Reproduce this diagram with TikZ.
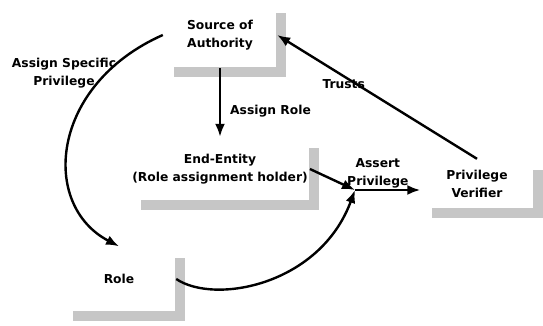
\documentclass[tikz,border=0pt]{standalone}
\usepackage{fontspec}
\setmainfont{DejaVu Sans}
\usetikzlibrary{arrows.meta,shadows,positioning}

\begin{document}
\begin{tikzpicture}[x=1pt, y=1pt, line width=2.4pt, >={Latex[length=13pt, width=10pt]},
  every node/.style={font=\bfseries\fontsize{12.3}{17.5}\selectfont, align=center, inner sep=1pt},
  box/.style={fill=white, drop shadow={shadow xshift=10pt, shadow yshift=-10pt, fill=gray!45, opacity=1}}]
\useasboundingbox (0,0) rectangle (543,325);

\node[box, minimum width=112pt, minimum height=64pt] (soa) at (220,290) {Source of\\Authority};
\node[box, minimum width=170pt, minimum height=62pt] (ee) at (220,156) {End-Entity\\(Role assignment holder)};
\node[box, minimum width=111pt, minimum height=48pt] (pv) at (477,141) {Privilege\\Verifier};
\node[box, minimum width=112pt, minimum height=63pt] (role) at (119,46) {Role};
\coordinate (j) at (355,135);

\draw[->] (soa) -- node[pos=0.62, right=8pt] {Assign Role} (ee);
\draw[->] (soa.west) .. controls (50,240) and (40,120) .. (role.north);
\node (asp) at (64,252) {Assign Specific\\Privilege};
\draw[->] (role.east) .. controls (215,20) and (320,40) .. (j);
\draw[->] (ee.east) -- (j);
\draw[->] (j) -- node[pos=0.35, above] {Assert\\Privilege} (j -| pv.west);
\draw[->] (pv.north) -- node[pos=0.55, above left] {Trusts} (soa.east);
\end{tikzpicture}
\end{document}
